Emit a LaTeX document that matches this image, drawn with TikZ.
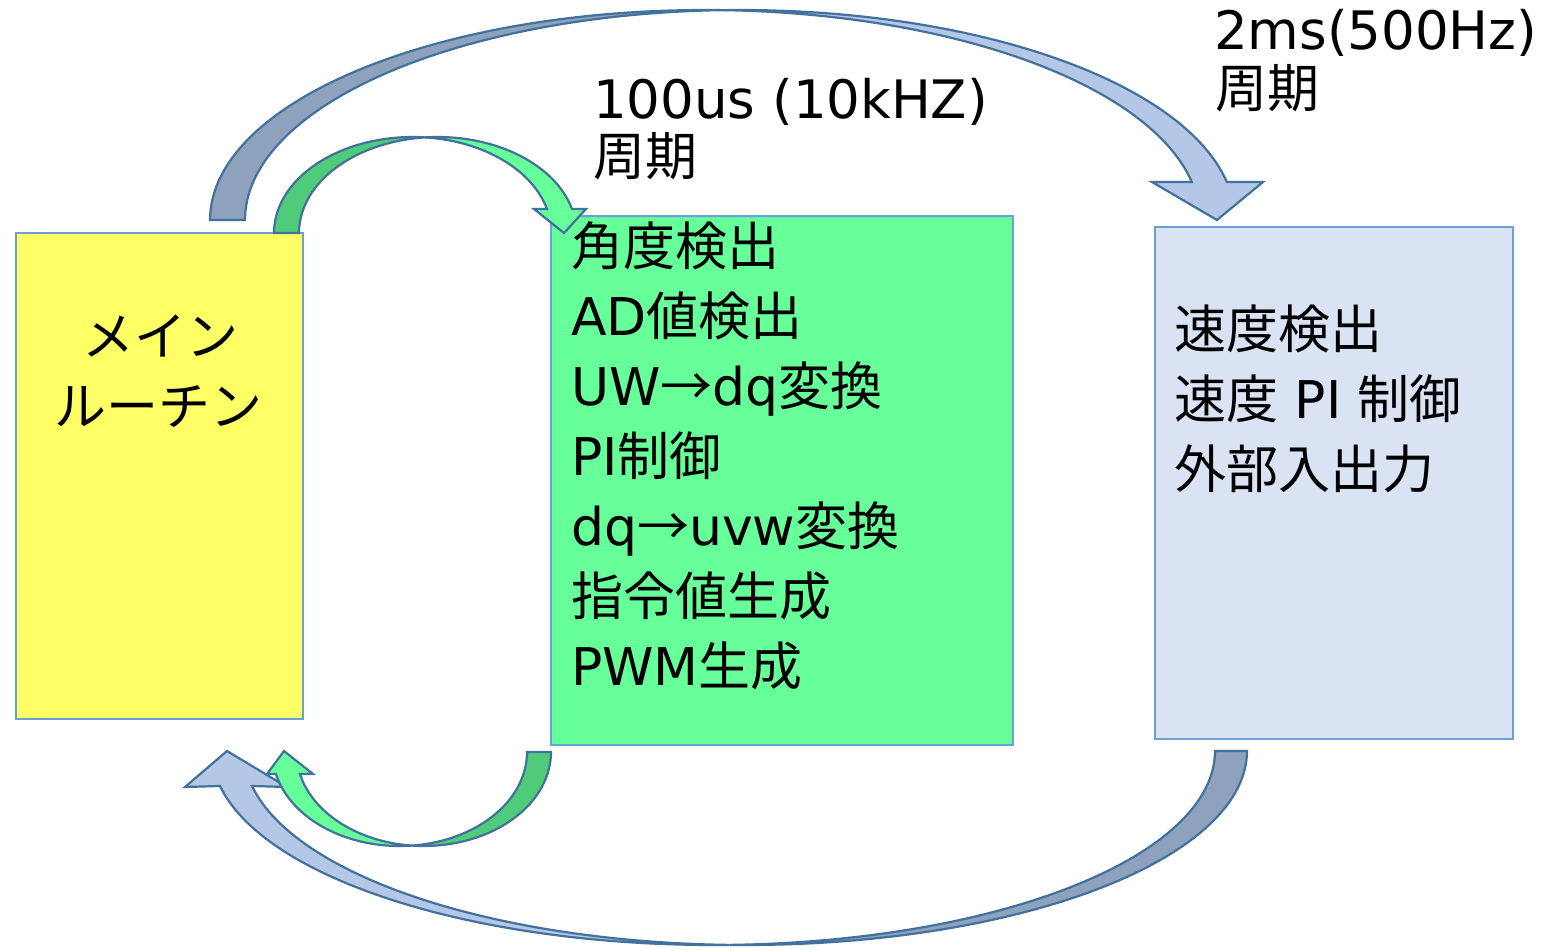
\documentclass[tikz,border=0pt]{standalone}
\usepackage{fontspec}
\setmainfont{DejaVu Sans}
\newfontfamily\jp{Noto Sans CJK JP}
\definecolor{boxline}{HTML}{6A9FD8}
\definecolor{yellowfill}{HTML}{FFFF66}
\definecolor{greenfill}{HTML}{66FF99}
\definecolor{bluefill}{HTML}{DAE3F3}
\definecolor{arrline}{HTML}{41719C}
\definecolor{bluelight}{HTML}{B4C7E7}
\definecolor{bluedark}{HTML}{8EA1BD}
\definecolor{greendark}{HTML}{50CB7A}
\tikzset{
  boxst/.style={draw=boxline, line width=1.6pt, inner sep=0pt},
  arrst/.style={draw=arrline, line width=2.2pt, line join=miter},
  txt/.style={anchor=base west, inner sep=0pt, font=\fontsize{52}{70}\selectfont},
  txtc/.style={anchor=base, inner sep=0pt, font=\fontsize{52}{70}\selectfont},
  lat/.style={font=\fontsize{53}{70}\selectfont},
}
\begin{document}
\begin{tikzpicture}[x=1pt,y=-1pt]
\useasboundingbox (0,0) rectangle (1542,950);
% boxes
\node[boxst, fill=yellowfill, minimum width=287pt, minimum height=486pt, anchor=north west] (main) at (15,232) {};
\node[boxst, fill=greenfill, minimum width=462pt, minimum height=529pt, anchor=north west] (fast) at (550,215) {};
\node[boxst, fill=bluefill, minimum width=358pt, minimum height=512pt, anchor=north west] (slow) at (1154,226) {};

% big top arrow (2ms)
\path[arrst, fill=bluedark] plot[domain=180:88.03, samples=60, variable=\t] ({705+495*cos(\t)},{220-210*sin(\t)})
  -- plot[domain=92.08:180, samples=60, variable=\t] ({740+495*cos(\t)},{220-210*sin(\t)}) -- cycle;
\path[arrst, fill=bluelight] plot[domain=92.08:10.43, samples=60, variable=\t] ({740+495*cos(\t)},{220-210*sin(\t)})
  -- (1263,182) -- (1217,220) -- (1152,182)
  -- plot[domain=10.43:88.03, samples=60, variable=\t] ({705+495*cos(\t)},{220-210*sin(\t)}) -- cycle;

% big bottom arrow
\path[arrst, fill=bluedark] plot[domain=0:91.83, samples=60, variable=\t] ({745.4+501.6*cos(\t)},{751+194*sin(\t)})
  -- plot[domain=88.17:0, samples=60, variable=\t] ({713.4+501.6*cos(\t)},{751+194*sin(\t)}) -- cycle;
\path[arrst, fill=bluelight] plot[domain=88.17:169.61, samples=60, variable=\t] ({713.4+501.6*cos(\t)},{751+194*sin(\t)})
  -- (185,787) -- (227,751) -- (287,787)
  -- plot[domain=169.61:91.83, samples=60, variable=\t] ({745.4+501.6*cos(\t)},{751+194*sin(\t)}) -- cycle;

% small top arrow (100us)
\path[arrst, fill=greendark] plot[domain=180:84.83, samples=40, variable=\t] ({412.7+138.7*cos(\t)},{233-96*sin(\t)})
  -- plot[domain=95.17:180, samples=40, variable=\t] ({437.7+138.7*cos(\t)},{233-96*sin(\t)}) -- cycle;
\path[arrst, fill=greenfill] plot[domain=95.17:14.48, samples=40, variable=\t] ({437.7+138.7*cos(\t)},{233-96*sin(\t)})
  -- (586,209) -- (564,233) -- (534,209)
  -- plot[domain=14.48:84.83, samples=40, variable=\t] ({412.7+138.7*cos(\t)},{233-96*sin(\t)}) -- cycle;

% small bottom arrow
\path[arrst, fill=greendark] plot[domain=0:95.41, samples=40, variable=\t] ({423.7+127.3*cos(\t)},{752+94*sin(\t)})
  -- plot[domain=84.59:0, samples=40, variable=\t] ({399.7+127.3*cos(\t)},{752+94*sin(\t)}) -- cycle;
\path[arrst, fill=greenfill] plot[domain=84.59:166.47, samples=40, variable=\t] ({399.7+127.3*cos(\t)},{752+94*sin(\t)})
  -- (267,774) -- (284,751) -- (313,774)
  -- plot[domain=166.47:95.41, samples=40, variable=\t] ({423.7+127.3*cos(\t)},{752+94*sin(\t)}) -- cycle;

% texts
\node[txtc] (m1) at (160,355) {\jp メイン};
\node[txtc] (m2) at (158,425) {\jp ルーチン};

\node[txt, lat] (f0a) at (593,118) {100us (10kHZ)};
\node[txt, text height=42pt] (f0b) at (593,175) {\jp 周期};
\node[txt, lat] (s0a) at (1214,50) {2ms(500Hz)};
\node[txt, text height=42pt] (s0b) at (1215,107) {\jp 周期};

\node[txt] (f1) at (571,265) {\jp 角度検出};
\node[txt] (f2) at (571,335) {AD{\jp 値検出}};
\node[txt] (f3) at (571,405) {UW{\jp →}dq{\jp 変換}};
\node[txt] (f4) at (571,475) {PI{\jp 制御}};
\node[txt] (f5) at (571,545) {dq{\jp →}uvw{\jp 変換}};
\node[txt] (f6) at (571,615) {\jp 指令値生成};
\node[txt] (f7) at (571,685) {PWM{\jp 生成}};

\node[txt] (s1) at (1174,348) {\jp 速度検出};
\node[txt] (s2) at (1174,418) {{\jp 速度} PI {\jp 制御}};
\node[txt] (s3) at (1174,488) {\jp 外部入出力};
\end{tikzpicture}
\end{document}
